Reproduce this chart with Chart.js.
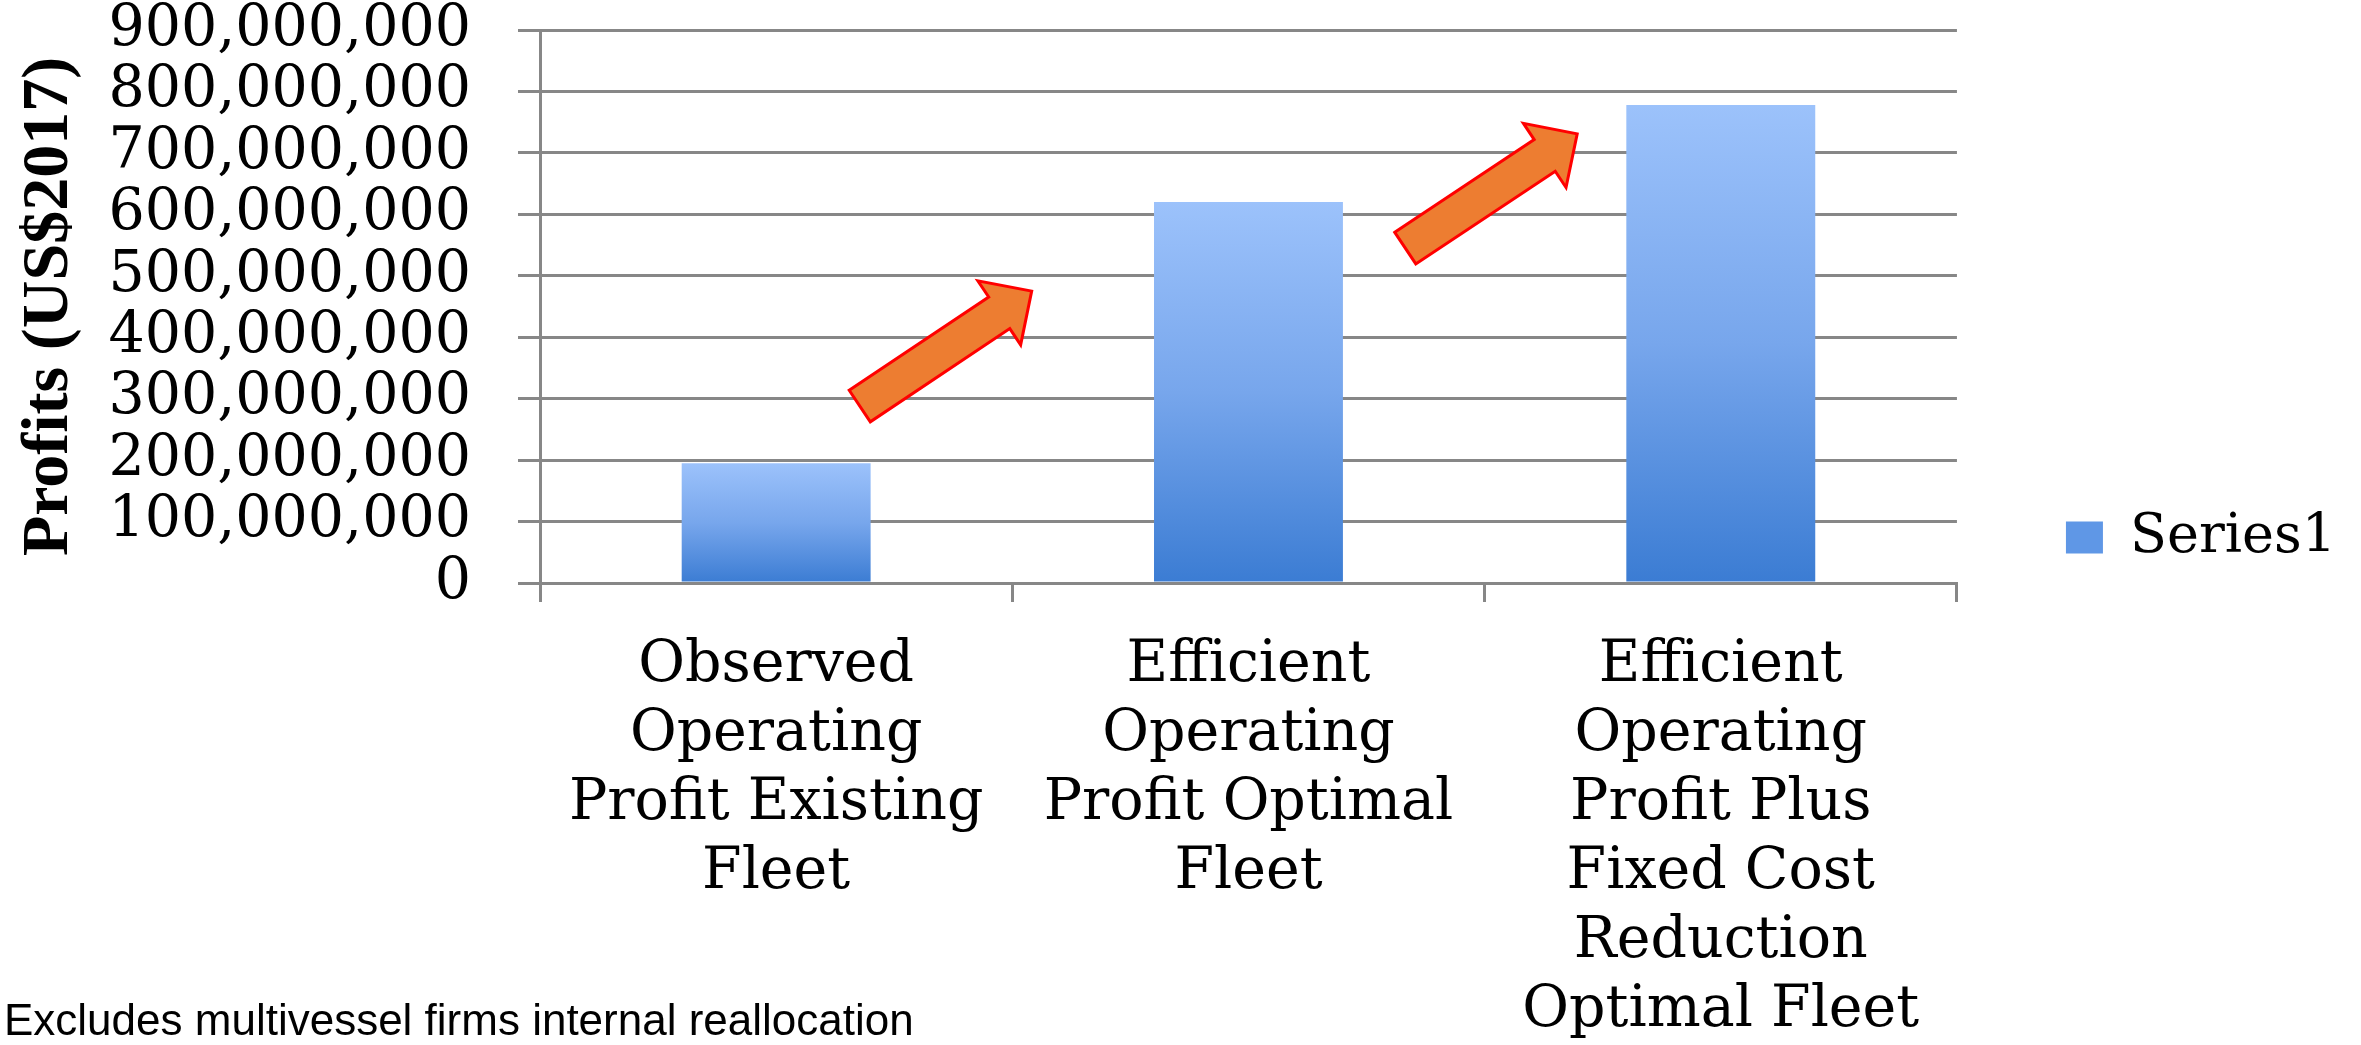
<!DOCTYPE html>
<html>
<head>
<meta charset="utf-8">
<script src="https://cdn.jsdelivr.net/npm/chart.js@4/dist/chart.umd.min.js"></script>
<style>
  body { margin: 0; background: #fff; }
  #wrap { position: relative; width: 2361px; height: 1045px; }
</style>
</head>
<body>
<div id="wrap"><canvas id="profitChart"></canvas></div>
<script>
// categories on the x axis (multi-line labels)
const categories = [
  ["Observed", "Operating", "Profit Existing", "Fleet"],
  ["Efficient", "Operating", "Profit Optimal", "Fleet"],
  ["Efficient", "Operating", "Profit Plus", "Fixed Cost", "Reduction", "Optimal Fleet"],
];
const seriesName = "Series1";
const profits = [195000000, 620000000, 778000000];

// y axis range
const yMin = 0;
const yMax = 900000000;
const yStep = 100000000;

const yTitle = "Profits (US$2017)";
const footnote = "Excludes multivessel firms internal reallocation";

// arrows drawn over the plot, in data coordinates (category index, value)
const arrowFrom = [[0.177, 288000000], [1.332, 545000000]];
const arrowTo = [[0.541, 475000000], [1.696, 731000000]];

const gridColor = "#878787";
const serif = "'DejaVu Serif', serif";

function barGradient(c) {
  const chart = c.chart;
  if (!chart.chartArea) return "#6a9fe8";
  const y = chart.scales.y;
  const top = y.getPixelForValue(c.raw);
  const bottom = y.getPixelForValue(0);
  const g = chart.ctx.createLinearGradient(0, top, 0, bottom);
  g.addColorStop(0, "#9cc2fb");
  g.addColorStop(0.5, "#77a6ec");
  g.addColorStop(1, "#3b7cd3");
  return g;
}

const arrowPlugin = {
  id: "arrows",
  afterDatasetsDraw(chart) {
    const ctx = chart.ctx;
    const x = chart.scales.x;
    const y = chart.scales.y;
    const h = 19, H = 38.5, hl = 39;
    arrowFrom.forEach((p, i) => {
      const x0 = x.getPixelForValue(p[0]);
      const y0 = y.getPixelForValue(p[1]);
      const x1 = x.getPixelForValue(arrowTo[i][0]);
      const y1 = y.getPixelForValue(arrowTo[i][1]);
      const len = Math.hypot(x1 - x0, y1 - y0);
      ctx.save();
      ctx.translate(x0, y0);
      ctx.rotate(Math.atan2(y1 - y0, x1 - x0));
      ctx.beginPath();
      ctx.moveTo(0, -h);
      ctx.lineTo(len - hl, -h);
      ctx.lineTo(len - hl, -H);
      ctx.lineTo(len, 0);
      ctx.lineTo(len - hl, H);
      ctx.lineTo(len - hl, h);
      ctx.lineTo(0, h);
      ctx.closePath();
      ctx.fillStyle = "#ed7d31";
      ctx.fill();
      ctx.lineWidth = 3;
      ctx.lineJoin = "miter";
      ctx.strokeStyle = "#ff0000";
      ctx.stroke();
      ctx.restore();
    });
  },
  afterDraw(chart) {
    const ctx = chart.ctx;
    ctx.save();
    ctx.font = "44px 'Liberation Sans', Arial, sans-serif";
    ctx.fillStyle = "#000";
    ctx.textAlign = "left";
    ctx.textBaseline = "alphabetic";
    ctx.fillText(footnote, 4, 1035);
    ctx.restore();
  },
};

new Chart(document.getElementById("profitChart"), {
  type: "bar",
  data: {
    labels: categories,
    datasets: [
      {
        label: seriesName,
        data: profits,
        backgroundColor: barGradient,
        borderWidth: 0,
        barPercentage: 0.4,
        categoryPercentage: 1.0,
      },
    ],
  },
  options: {
    responsive: true,
    maintainAspectRatio: false,
    animation: false,
    devicePixelRatio: 1,
    layout: { padding: { left: 14, right: 15, top: 30, bottom: 0 } },
    plugins: {
      tooltip: { enabled: false },
      legend: {
        position: "right",
        labels: {
          color: "#000",
          font: { family: serif, size: 54 },
          boxWidth: 37,
          boxHeight: 32,
          padding: 109,
          generateLabels: () => [
            { text: seriesName, fillStyle: "#5f97e6", strokeStyle: "#5f97e6", lineWidth: 0, datasetIndex: 0 },
          ],
        },
      },
    },
    scales: {
      x: {
        afterFit: (scale) => { scale.height = 462; },
        grid: {
          drawOnChartArea: false,
          drawTicks: true,
          tickLength: 19,
          color: gridColor,
          lineWidth: 3,
        },
        border: { color: gridColor, width: 3 },
        ticks: {
          color: "#000",
          font: { family: serif, size: 57, lineHeight: 1.21 },
          padding: 30,
          maxRotation: 0,
          autoSkip: false,
        },
      },
      y: {
        min: yMin,
        max: yMax,
        afterFit: (scale) => {
          scale.width = 526;
          scale.paddingTop = 0;
          scale.paddingBottom = 0;
        },
        grid: { color: gridColor, lineWidth: 3, tickLength: 22 },
        border: { color: gridColor, width: 3 },
        ticks: {
          stepSize: yStep,
          autoSkip: false,
          color: "#000",
          font: { family: serif, size: 57 },
          padding: 47,
          callback: (v) => v.toLocaleString("en-US"),
        },
        title: {
          display: true,
          text: yTitle,
          color: "#000",
          font: { family: "'Liberation Serif', serif", size: 66, weight: "bold", lineHeight: 1.1 },
          padding: { top: 0, bottom: 0 },
        },
      },
    },
  },
  plugins: [arrowPlugin],
});
</script>
</body>
</html>
